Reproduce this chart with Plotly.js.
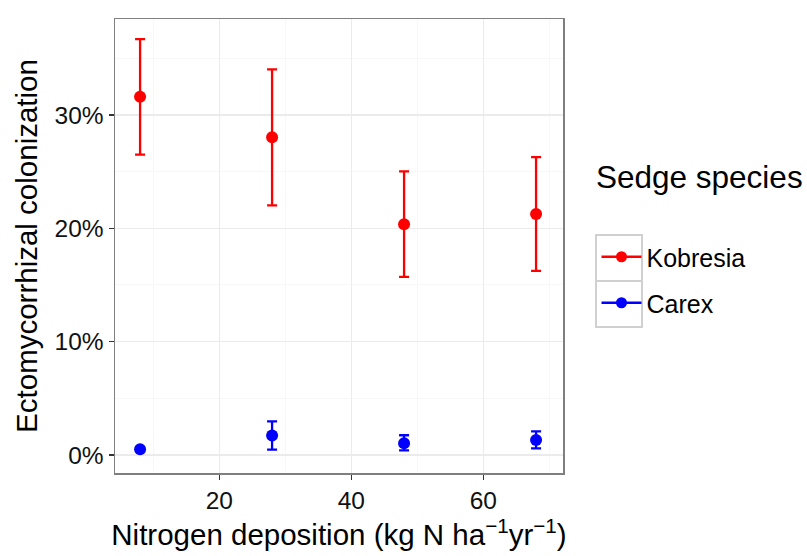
<!DOCTYPE html>
<html>
<head>
<meta charset="utf-8">
<script src="https://cdn.plot.ly/plotly-3.0.1.min.js"></script>
<style>html,body{margin:0;padding:0;background:#fff;}#chart{width:807px;height:556px;}</style>
</head>
<body>
<div id="chart"></div>
<script>
const nitrogen = [8, 28, 48, 68];
const kobresiaMean = [31.6, 28.03, 20.35, 21.26];
const kobresiaUpper = [36.7, 34.03, 25.03, 26.29];
const kobresiaLower = [26.5, 22.03, 15.71, 16.24];
const carexMean = [0.5, 1.71, 1.03, 1.32];
const carexUpper = [0.6, 2.97, 1.74, 2.09];
const carexLower = [0.4, 0.47, 0.41, 0.59];
const yTicks = [0, 10, 20, 30];
const yTickLabels = ['0%', '10%', '20%', '30%'];
const xTicks = [20, 40, 60];
const legendTitle = 'Sedge species';

function errObj(mean, up, lo, color) {
  return {type: 'data', symmetric: false,
    array: mean.map((m, i) => up[i] - m),
    arrayminus: mean.map((m, i) => m - lo[i]),
    color: color, thickness: 2.3, width: 5, visible: true};
}

const font = 'Liberation Sans, Arial, Helvetica, sans-serif';
const traces = [
  {x: nitrogen, y: kobresiaMean, type: 'scatter', mode: 'markers', name: 'Kobresia',
   marker: {color: '#ff0000', size: 12}, error_y: errObj(kobresiaMean, kobresiaUpper, kobresiaLower, '#ff0000'),
   showlegend: false},
  {x: nitrogen, y: carexMean, type: 'scatter', mode: 'markers', name: 'Carex',
   marker: {color: '#0000ff', size: 12}, error_y: errObj(carexMean, carexUpper, carexLower, '#0000ff'),
   showlegend: false},
  {x: [null], y: [null], type: 'scatter', mode: 'lines+markers', name: 'Kobresia', legendgroup: 'a',
   marker: {color: '#ff0000', size: 11}, line: {color: '#ff0000', width: 2.3}},
  {x: [null], y: [null], type: 'scatter', mode: 'lines+markers', name: 'Carex', legendgroup: 'b',
   marker: {color: '#0000ff', size: 11}, line: {color: '#0000ff', width: 2.3}}
];

function px2x(p) { return (p - 115) / 448; }
function px2y(p) { return (473 - p) / 454; }

const boxStyle = {type: 'rect', xref: 'paper', yref: 'paper', line: {color: '#d0d0d0', width: 2}, fillcolor: 'rgba(0,0,0,0)', layer: 'below'};

const layout = {
  width: 807, height: 556,
  margin: {l: 115, r: 244, t: 19, b: 83},
  paper_bgcolor: '#fff', plot_bgcolor: '#fff',
  font: {family: font, color: '#000', size: 24},
  xaxis: {range: [4.2, 72.08], tickvals: xTicks, ticktext: xTicks.map(String),
    showgrid: true, gridcolor: '#ebebeb', gridwidth: 1.3,
    minor: {dtick: 10, tick0: 0, showgrid: true, gridcolor: '#f7f7f7', gridwidth: 1},
    zeroline: false, showline: true, linecolor: '#7f7f7f', linewidth: 1.5, mirror: true,
    ticks: 'outside', ticklen: 5, tickcolor: '#333', tickwidth: 1.5,
    tickfont: {size: 24.5, color: '#111'},
    title: {text: 'Nitrogen deposition (kg N ha<sup>\u22121</sup>yr<sup>\u22121</sup>)', font: {size: 29.5}, standoff: 6}},
  yaxis: {range: [-1.59, 38.47], tickvals: yTicks, ticktext: yTickLabels,
    showgrid: true, gridcolor: '#ebebeb', gridwidth: 1.3,
    minor: {dtick: 5, tick0: 0, showgrid: true, gridcolor: '#f7f7f7', gridwidth: 1},
    zeroline: false, showline: true, linecolor: '#7f7f7f', linewidth: 1.5, mirror: true,
    ticks: 'outside', ticklen: 5, tickcolor: '#333', tickwidth: 1.5,
    tickfont: {size: 24.5, color: '#111'},
    title: {text: 'Ectomycorrhizal colonization', font: {size: 29.5}, standoff: 8}},
  legend: {x: px2x(596.5), xanchor: 'left', y: px2y(234), yanchor: 'top', traceorder: 'grouped',
    tracegroupgap: 10.5, itemwidth: 40, font: {size: 25}, bgcolor: 'rgba(0,0,0,0)'},
  annotations: [{text: legendTitle, xref: 'paper', yref: 'paper', x: px2x(594), y: px2y(177),
    xanchor: 'left', yanchor: 'middle', showarrow: false, font: {size: 31.5}}],
  shapes: [
    Object.assign({x0: px2x(596), x1: px2x(642), y0: px2y(235), y1: px2y(281)}, boxStyle),
    Object.assign({x0: px2x(596), x1: px2x(642), y0: px2y(281), y1: px2y(327)}, boxStyle)
  ]
};

Plotly.newPlot('chart', traces, layout, {displayModeBar: false, staticPlot: true});
</script>
</body>
</html>
